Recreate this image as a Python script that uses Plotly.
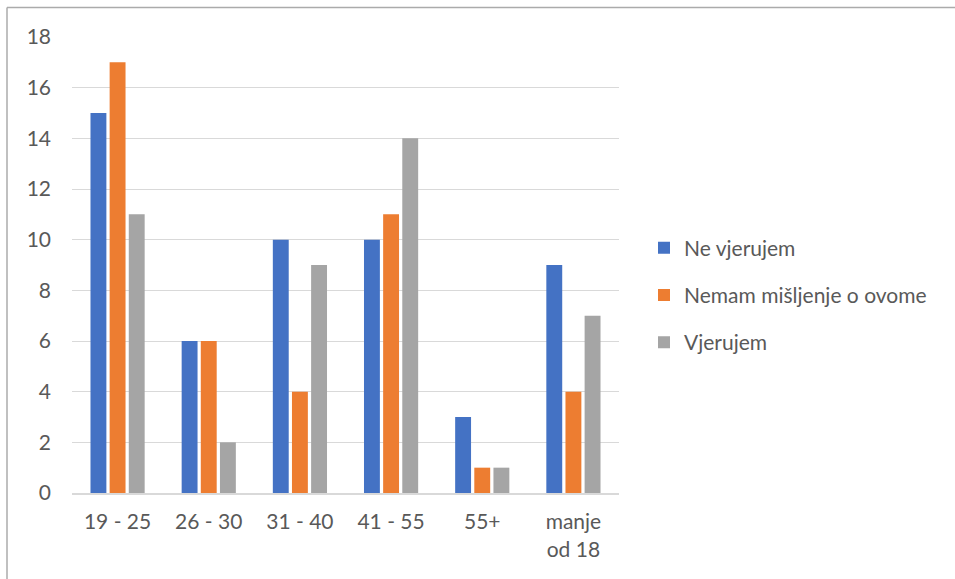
import plotly.graph_objects as go

categories = ["19 - 25", "26 - 30", "31 - 40", "41 - 55", "55+", "manje<br>od 18"]
ne_vjerujem = [15, 6, 10, 10, 3, 9]
nemam_misljenje = [17, 6, 4, 11, 1, 4]
vjerujem = [11, 2, 9, 14, 1, 7]

series = [
    ("Ne vjerujem", ne_vjerujem, "#4472C4"),
    ("Nemam mišljenje o ovome", nemam_misljenje, "#ED7D31"),
    ("Vjerujem", vjerujem, "#A5A5A5"),
]

fig = go.Figure()
for i, (name, vals, color) in enumerate(series):
    fig.add_trace(go.Bar(x=categories, y=vals, name=name, marker_color=color,
                         marker_line_width=0, legendgroup=str(i)))

L, R, T, B = 72, 955 - 619, 37, 579 - 493
W, H = 955 - L - R, 579 - T - B

FONT = "Lato, Open Sans, sans-serif"
fig.update_layout(
    width=955, height=579,
    margin=dict(l=L, r=R, t=T, b=B),
    paper_bgcolor="white", plot_bgcolor="white",
    barmode="group", bargap=0.37, bargroupgap=0.17,
    font=dict(family=FONT, size=21, color="#595959"),
    xaxis=dict(showgrid=False, showline=True, linecolor="#d9d9d9", linewidth=2,
               ticks="", ticklabelstandoff=9, tickfont=dict(size=21, color="#595959")),
    yaxis=dict(range=[0, 18], dtick=2, showgrid=True, gridcolor="#d9d9d9", gridwidth=1,
               zeroline=False, showline=False, ticks="", ticklabelstandoff=20,
               tickfont=dict(size=21, color="#595959")),
    legend=dict(x=(644 - L) / W, y=(493 - 295) / H, xanchor="left", yanchor="middle",
                font=dict(size=21, color="#595959"), tracegroupgap=17,
                itemwidth=30, bgcolor="rgba(0,0,0,0)"),
    showlegend=True,
)

x0 = (7 - L) / W
y_top = 1 + (T - 7.5) / H
y_bot = (493 - 579) / H - 0.01
fig.add_shape(type="line", xref="paper", yref="paper", x0=x0, x1=(955 - L) / W + 0.01,
              y0=y_top, y1=y_top, line=dict(color="#ababab", width=1.5))
fig.add_shape(type="line", xref="paper", yref="paper", x0=x0, x1=x0,
              y0=y_bot, y1=y_top, line=dict(color="#ababab", width=1.5))

fig.write_html("out.html", post_script="document.body.style.margin='0';",
               config={"displayModeBar": False})
